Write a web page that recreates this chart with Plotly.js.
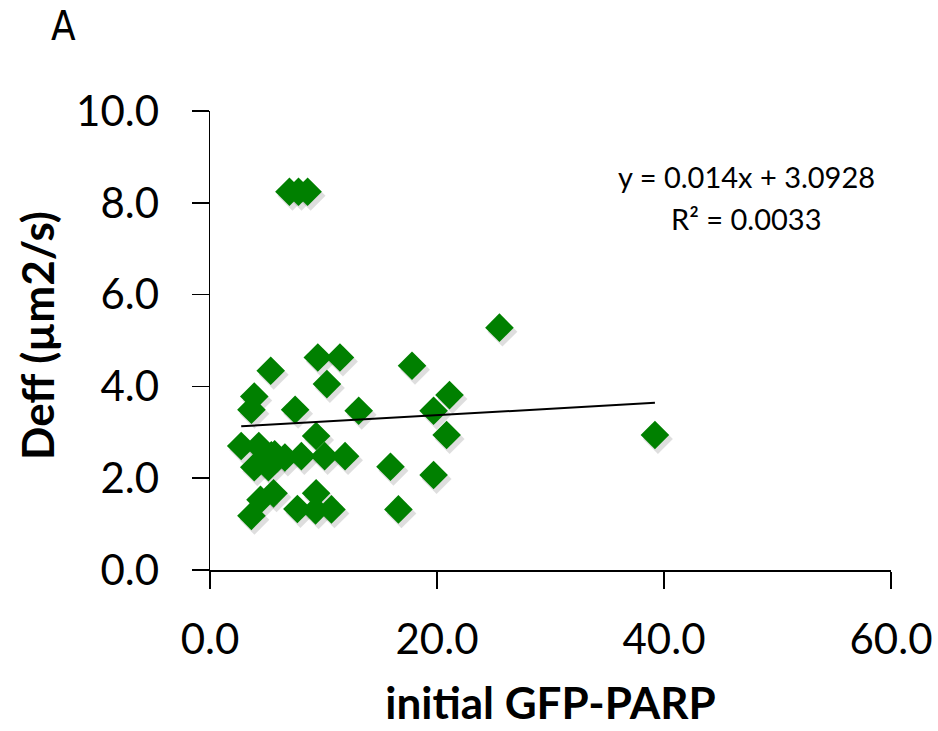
<!DOCTYPE html>
<html>
<head>
<meta charset="utf-8">
<script src="https://cdn.plot.ly/plotly-3.0.1.min.js"></script>
<style>html,body{margin:0;padding:0;background:#fff;}#chart{width:938px;height:731px;}</style>
</head>
<body>
<div id="chart"></div>
<script>
// initial GFP-PARP (x) and Deff in µm2/s (y)
const gfpParp = [7.0, 7.8, 8.6, 25.5, 5.35, 9.5, 11.45, 10.3, 17.8, 3.9, 3.65, 7.5, 13.1, 21.1, 19.7, 20.85, 39.2, 9.35, 2.75, 4.3, 3.9, 5.15, 5.7, 6.6, 4.8, 8.05, 10.1, 11.9, 15.9, 19.7, 16.6, 5.6, 4.45, 3.65, 9.35, 7.7, 9.3, 10.7, 5.4];
const deff    = [8.24, 8.24, 8.24, 5.28, 4.34, 4.63, 4.63, 4.05, 4.45, 3.78, 3.49, 3.49, 3.47, 3.81, 3.47, 2.94, 2.94, 2.92, 2.70, 2.70, 2.24, 2.24, 2.52, 2.45, 2.45, 2.48, 2.48, 2.48, 2.25, 2.07, 1.32, 1.67, 1.53, 1.18, 1.67, 1.33, 1.30, 1.32, 2.50];
const xTicks = [0, 20, 40, 60];
const xTickLabels = ["0.0", "20.0", "40.0", "60.0"];
const yTicks = [0, 2, 4, 6, 8, 10];
const yTickLabels = ["0.0", "2.0", "4.0", "6.0", "8.0", "10.0"];
const trendSlope = 0.014;
const trendIntercept = 3.0928;
const equationText = "y = 0.014x + 3.0928";
const r2Text = "R² = 0.0033";
const xTitle = "initial GFP-PARP";
const yTitle = "Deff (µm2/s)";
const panelLabel = "A";

const xMin = Math.min(...gfpParp), xMax = Math.max(...gfpParp);
const trendX = [xMin, xMax];
const trendY = trendX.map(v => trendSlope * v + trendIntercept);

const mainFont = "Lato, 'Open Sans', sans-serif";
const tickFont = {family: mainFont, size: 42, color: "#000"};
const titleFont = {family: mainFont, size: 44, color: "#000", weight: "bold"};

const W = 938, H = 731, L = 210, R = 47, T = 111, B = 161;
const pw = W - L - R, ph = H - T - B;
const X0 = 0, X1 = 60, Y0 = 0, Y1 = 10;
// shadow offset: 3px right, 4px down (done by shifting the hidden base axes' ranges)
const sx = (X1 - X0) * 3 / pw, sy = (Y1 - Y0) * 4 / ph;

const data = [
  {x: gfpParp, y: deff, mode: "markers", type: "scatter",
   marker: {symbol: "diamond", size: 23, color: "rgba(0,0,0,0.13)", line: {width: 0}}, hoverinfo: "skip", showlegend: false},
  {x: gfpParp, y: deff, xaxis: "x2", yaxis: "y2", mode: "markers", type: "scatter",
   marker: {symbol: "diamond", size: 22, color: "#008000", line: {width: 0}}, showlegend: false},
  {x: trendX, y: trendY, xaxis: "x2", yaxis: "y2", mode: "lines", type: "scatter",
   line: {color: "#000", width: 2}, showlegend: false}
];

const axisCommon = {showgrid: false, zeroline: false, showline: true, linecolor: "#000", linewidth: 1.5,
  ticks: "outside", ticklen: 17, tickwidth: 1.5, tickcolor: "#000", tickfont: tickFont, automargin: false};

const px = v => (v - L) / pw;          // paper x from pixel
const py = v => (H - B - v) / ph;      // paper y from pixel

const layout = {
  width: W, height: H,
  margin: {l: L, r: R, t: T, b: B},
  paper_bgcolor: "#fff", plot_bgcolor: "rgba(0,0,0,0)",
  showlegend: false,
  xaxis: {range: [X0 - sx, X1 - sx], visible: false, anchor: "y"},
  yaxis: {range: [Y0 + sy, Y1 + sy], visible: false, anchor: "x"},
  xaxis2: Object.assign({}, axisCommon, {range: [X0, X1], overlaying: "x", anchor: "y2",
          tickvals: xTicks, ticktext: xTickLabels, ticklabelstandoff: 15,
          title: {text: xTitle, font: titleFont, standoff: 26}}),
  yaxis2: Object.assign({}, axisCommon, {range: [Y0, Y1], overlaying: "y", anchor: "x2",
          tickvals: yTicks, ticktext: yTickLabels, ticklabelstandoff: 24}),
  annotations: [
    {text: "<b>" + yTitle + "</b>", xref: "paper", yref: "paper", x: px(37), y: py(336), textangle: -90,
     xanchor: "center", yanchor: "middle", showarrow: false, font: {family: mainFont, size: 44, color: "#000"}},
    {text: panelLabel, xref: "paper", yref: "paper", x: px(63), y: py(26), xanchor: "center", yanchor: "middle",
     showarrow: false, font: {family: "'Liberation Sans Narrow', 'DejaVu Sans Condensed', sans-serif", size: 40, color: "#000"}},
    {text: equationText, xref: "paper", yref: "paper", x: px(746), y: py(176),
     xanchor: "center", yanchor: "middle", showarrow: false, font: {family: mainFont, size: 29, color: "#000"}},
    {text: r2Text, xref: "paper", yref: "paper", x: px(746), y: py(218),
     xanchor: "center", yanchor: "middle", showarrow: false, font: {family: mainFont, size: 29, color: "#000"}}
  ]
};

Plotly.newPlot("chart", data, layout, {staticPlot: true, displayModeBar: false});
</script>
</body>
</html>
